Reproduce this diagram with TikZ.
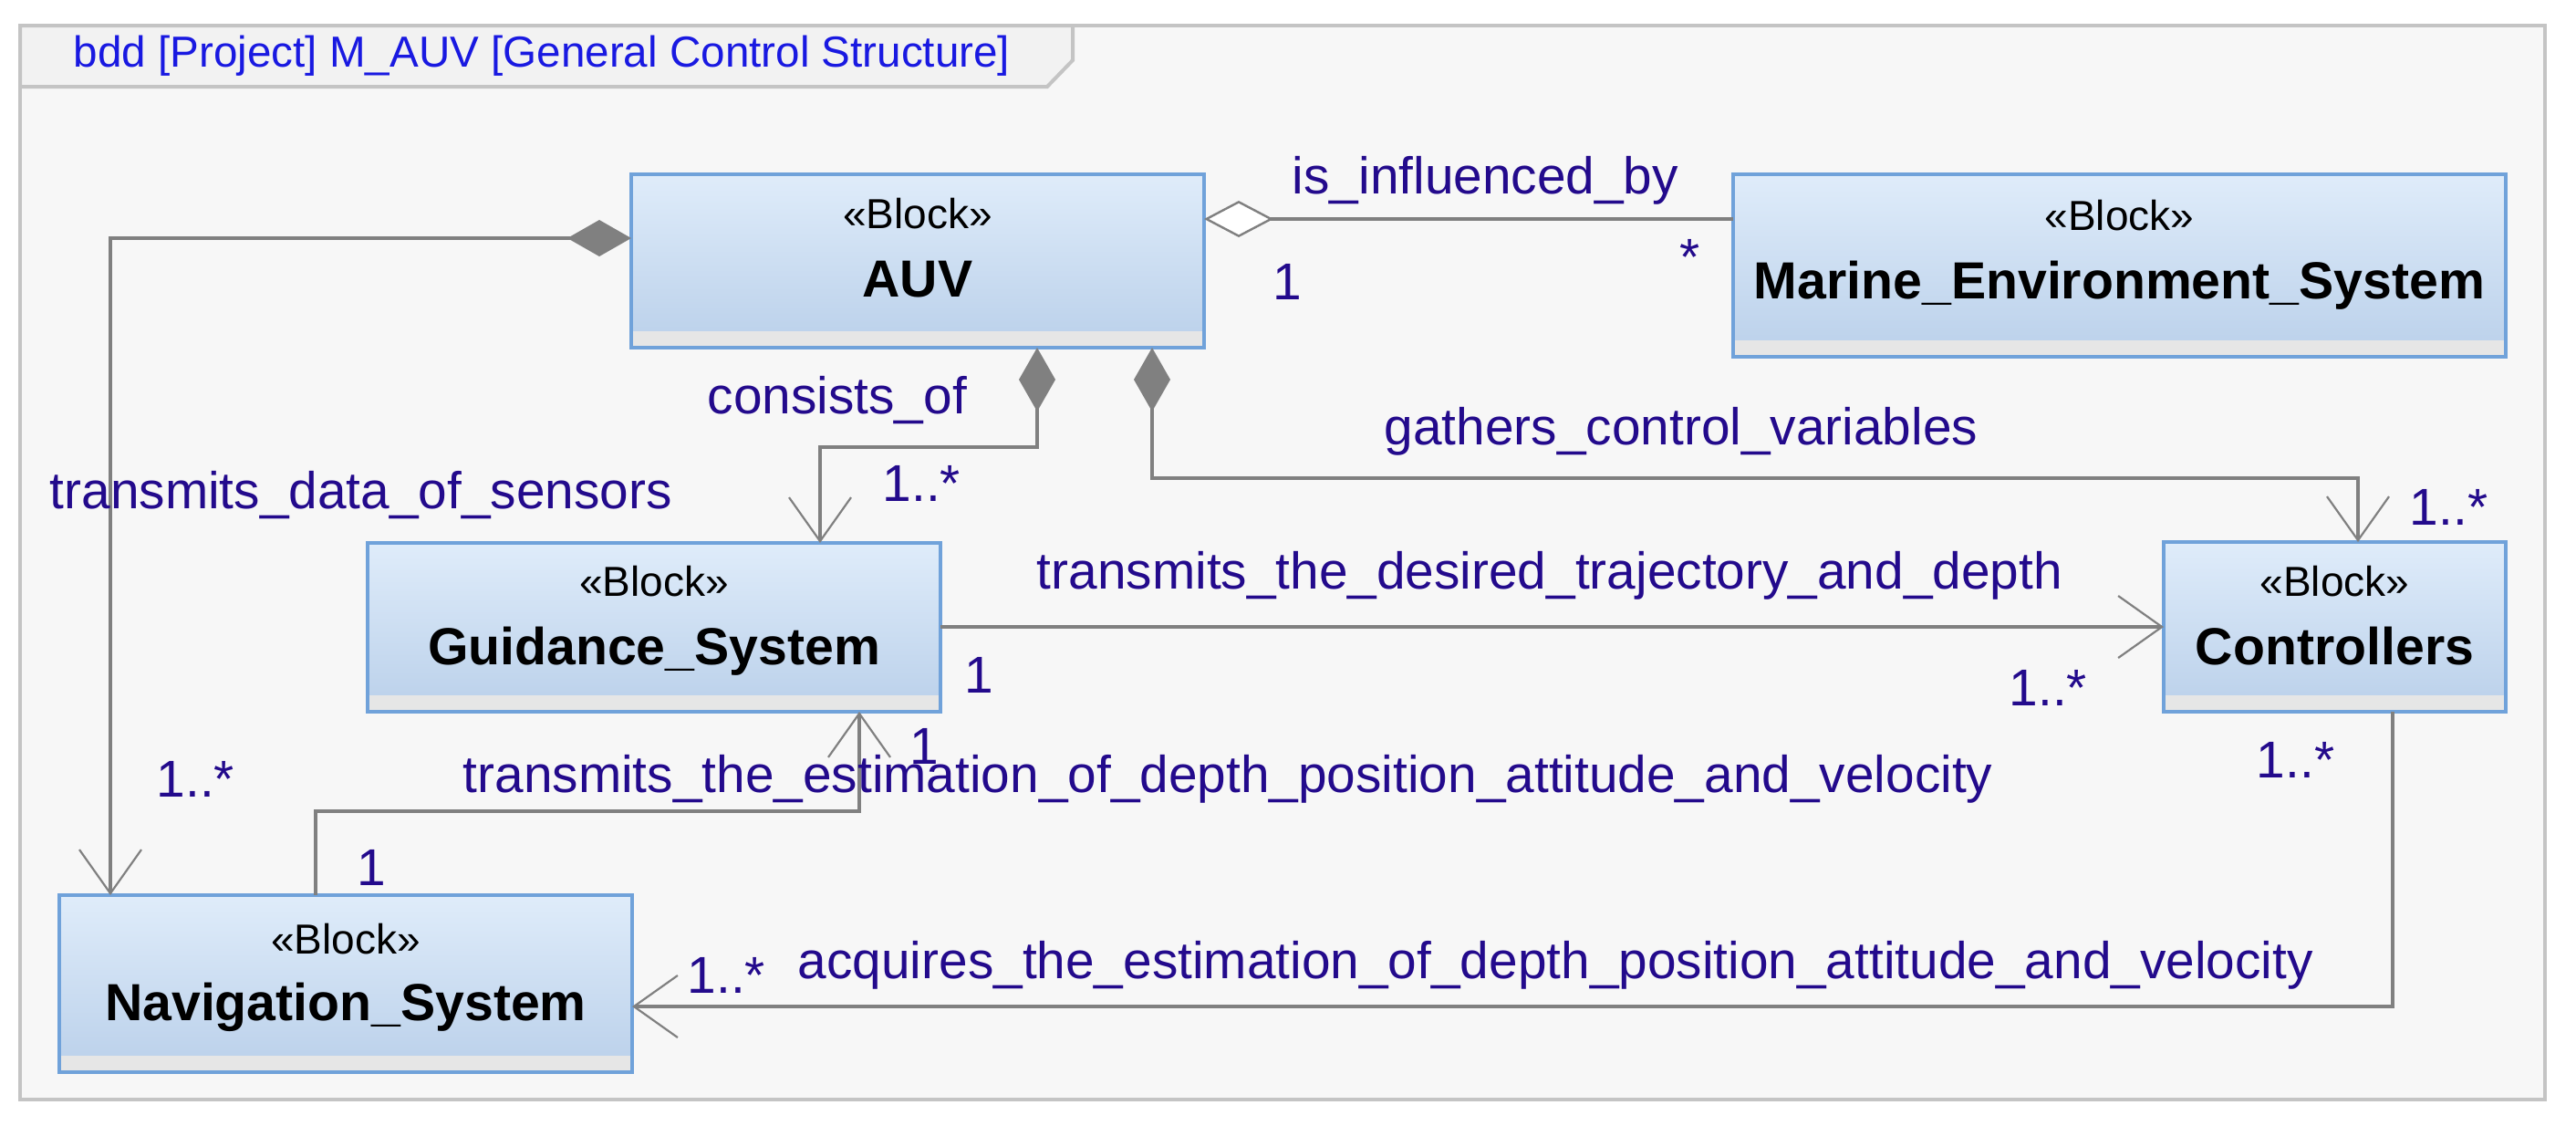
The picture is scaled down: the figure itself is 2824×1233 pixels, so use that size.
\documentclass[tikz,border=0pt]{standalone}
\usepackage{fontspec}
\setmainfont{Liberation Sans}
\usetikzlibrary{arrows.meta,calc}
\definecolor{framebg}{RGB}{247,247,247}
\definecolor{framegray}{RGB}{196,196,196}
\definecolor{blkborder}{RGB}{112,162,218}
\definecolor{blktop}{RGB}{223,236,250}
\definecolor{blkbot}{RGB}{186,208,234}
\definecolor{stripgray}{RGB}{230,230,230}
\definecolor{conngray}{RGB}{128,128,128}
\definecolor{lblc}{RGB}{35,10,140}
\definecolor{titlec}{RGB}{25,25,225}
\tikzset{
  blk/.style={draw=blkborder, line width=1pt, top color=blktop, bottom color=blkbot,
    inner sep=0pt, outer sep=0pt,
    path picture={\fill[stripgray] ([yshift=0.5pt]path picture bounding box.south west) rectangle ([yshift=4.5pt]path picture bounding box.south east);}},
  stereo/.style={font=\fontsize{11.5pt}{13pt}\selectfont, text=black, inner sep=0pt, anchor=base},
  bname/.style={font=\fontsize{14.3pt}{17pt}\selectfont\bfseries, text=black, inner sep=0pt, anchor=base},
  lbl/.style={font=\fontsize{14.2pt}{17pt}\selectfont, text=lblc, inner sep=0pt, anchor=base west},
  conn/.style={draw=conngray, line width=0.9pt},
  openhead/.style={-{Straight Barb[length=12pt,width=17pt,line width=0.55pt]}},
  compo/.style={conn, {Diamond[length=17.5pt,width=10pt,fill=conngray]}-{Straight Barb[length=12pt,width=17pt,line width=0.55pt]}},
  aggr/.style={conn, {Diamond[open,length=19pt,width=10pt,fill=white,line width=0.6pt]}-},
  assoc/.style={conn, openhead}
}
\begin{document}
\begin{tikzpicture}[x=0.25pt,y=-0.25pt]
\useasboundingbox (0,0) rectangle (2824,1233);
\fill[white] (0,0) rectangle (2824,1233);
% frame
\draw[framegray, line width=1pt, fill=framebg] (22,28) rectangle (2790,1205);
\draw[framegray, line width=1pt, fill=framebg!98!black] (22,28) -- (1176,28) -- (1176,66) -- (1148,95) -- (22,95) -- cycle;
\node[font=\fontsize{11.9pt}{14pt}\selectfont, text=titlec, inner sep=0pt, anchor=base west] (title) at (80,73) {bdd [Project] M\_AUV [General Control Structure]};

% blocks
\node[blk, minimum width=157pt, minimum height=47.5pt] (auv) at (1006,286) {};
\node[stereo] (auvst) at ($(auv.north)+(0,59)$) {«Block»};
\node[bname] (auvnm) at ($(auv.north)+(0,134)$) {AUV};

\node[blk, minimum width=211.75pt, minimum height=50pt] (mes) at (2323.5,291) {};
\node[stereo] (messt) at ($(mes.north)+(0,61)$) {«Block»};
\node[bname] (mesnm) at ($(mes.north)+(0,136)$) {Marine\_Environment\_System};

\node[blk, minimum width=157pt, minimum height=46.25pt] (gs) at (717,687.5) {};
\node[stereo] (gsst) at ($(gs.north)+(0,58)$) {«Block»};
\node[bname] (gsnm) at ($(gs.north)+(0,133)$) {Guidance\_System};

\node[blk, minimum width=93.75pt, minimum height=46.5pt] (ctl) at (2559.5,687) {};
\node[stereo] (ctlst) at ($(ctl.north)+(0,59)$) {«Block»};
\node[bname] (ctlnm) at ($(ctl.north)+(0,134)$) {Controllers};

\node[blk, minimum width=157pt, minimum height=48.5pt] (nav) at (379,1078) {};
\node[stereo] (navst) at ($(nav.north)+(0,64)$) {«Block»};
\node[bname] (navnm) at ($(nav.north)+(0,137)$) {Navigation\_System};

% bend coordinates
\coordinate (c1) at (1137,490);
\coordinate (g1) at (2585,524);
\coordinate (t1) at (942,889);
\coordinate (a1) at (2623,1103);

% connectors
\draw[compo] (auv.west |- 0,261) -| (nav.north -| 121,0);
\draw[aggr] (auv.east |- 0,240) -- (mes.west |- 0,240);
\draw[compo] (auv.south -| c1) -- (c1) -| (gs.north -| 899,0);
\draw[compo] (auv.south -| 1263,0) |- (g1) -- (ctl.north -| g1);
\draw[assoc] (gs.east |- 0,687) -- (ctl.west |- 0,687);
\draw[assoc] (nav.north -| 346,0) |- (t1) -- (gs.south -| t1);
\draw[assoc] (ctl.south -| a1) -- (a1) -- (nav.east |- a1);

% labels
\node[lbl] (l1) at (54,557) {transmits\_data\_of\_sensors};
\node[lbl] (m1) at (171,873) {1..*};
\node[lbl] (l2) at (1416,212) {is\_influenced\_by};
\node[lbl] (m2a) at (1395,328) {1};
\node[lbl] (m2b) at (1841,301) {*};
\node[lbl] (l3) at (775,453) {consists\_of};
\node[lbl] (m3) at (967,549) {1..*};
\node[lbl] (l4) at (1517,487) {gathers\_control\_variables};
\node[lbl] (m4) at (2641,575) {1..*};
\node[lbl] (l5) at (1136,645) {transmits\_the\_desired\_trajectory\_and\_depth};
\node[lbl] (m5a) at (1057,759) {1};
\node[lbl] (m5b) at (2202,773) {1..*};
\node[lbl] (l6) at (507,868) {transmits\_the\_estimation\_of\_depth\_position\_attitude\_and\_velocity};
\node[lbl] (m6a) at (997,837) {1};
\node[lbl] (m6b) at (391,970) {1};
\node[lbl] (l7) at (874,1072) {acquires\_the\_estimation\_of\_depth\_position\_attitude\_and\_velocity};
\node[lbl] (m7a) at (2473,852) {1..*};
\node[lbl] (m7b) at (753,1088) {1..*};
\end{tikzpicture}
\end{document}
